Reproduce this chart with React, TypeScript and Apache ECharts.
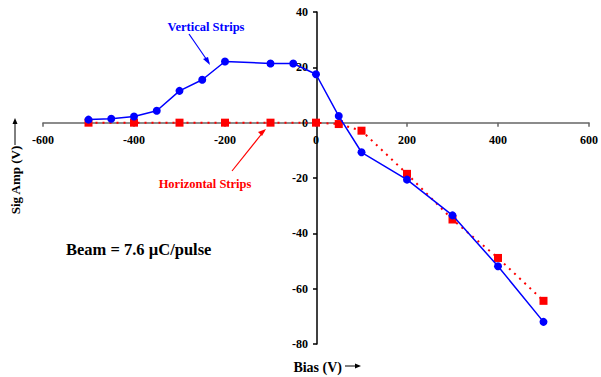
import React, { useEffect, useRef } from "react";
import * as echarts from "echarts";

const biasVertical = [-500, -450, -400, -350, -300, -250, -200, -100, -50, 0, 50, 100, 200, 300, 400, 500];
const ampVertical = [1.1, 1.4, 2.2, 4.3, 11.5, 15.5, 22.1, 21.4, 21.4, 17.5, 2.4, -10.7, -20.6, -33.5, -51.9, -72];
const biasHorizontal = [-500, -400, -300, -200, -100, 0, 50, 100, 200, 300, 400, 500];
const ampHorizontal = [0, 0, 0, 0, 0, 0, -0.5, -2.9, -18.5, -35, -48.9, -64.4];

const FONT = "'Liberation Serif', 'Times New Roman', serif";

const GRID = { left: 43, right: 10, top: 12, bottom: 33 };
const W = 601;
const H = 377;

export default function App() {
  const ref = useRef<HTMLDivElement>(null);
  useEffect(() => {
    if (!ref.current) return;
    const chart = echarts.init(ref.current, null, { renderer: "svg" });
    const label = { fontFamily: FONT, fontWeight: "bold", fontSize: 12, color: "#000" };
    const xMin = -600, xMax = 600, yMin = -80, yMax = 40;
    const plotW = W - GRID.left - GRID.right;
    const plotH = H - GRID.top - GRID.bottom;
    // move axes to cross at zero (labels follow the axis lines)
    const yOffset = -((0 - xMin) / (xMax - xMin)) * plotW;
    const xOffset = -((0 - yMin) / (yMax - yMin)) * plotH;
    chart.setOption({
      animation: false,
      backgroundColor: "#fff",
      grid: GRID,
      xAxis: {
        type: "value",
        min: xMin,
        max: xMax,
        interval: 200,
        offset: xOffset,
        splitLine: { show: false },
        axisLine: { onZero: false, lineStyle: { color: "#666", width: 1.5 } },
        axisTick: { length: 4, lineStyle: { color: "#666", width: 1.5 } },
        axisLabel: { ...label, margin: 11 },
      },
      yAxis: {
        type: "value",
        min: yMin,
        max: yMax,
        interval: 20,
        offset: yOffset,
        splitLine: { show: false },
        axisLine: { onZero: false, lineStyle: { color: "#000", width: 1.5 } },
        axisTick: { length: 4, lineStyle: { color: "#000", width: 1.5 } },
        axisLabel: { ...label, margin: 9 },
      },
      series: [
        {
          name: "Horizontal Strips",
          type: "line",
          data: biasHorizontal.map((x, i) => [x, ampHorizontal[i]]),
          symbol: "rect",
          symbolSize: 8,
          itemStyle: { color: "#ff0000" },
          lineStyle: { color: "#ff0000", width: 2, type: [2, 5] },
          z: 2,
        },
        {
          name: "Vertical Strips",
          type: "line",
          data: biasVertical.map((x, i) => [x, ampVertical[i]]),
          symbol: "circle",
          symbolSize: 8,
          itemStyle: { color: "#0000ff" },
          lineStyle: { color: "#0000ff", width: 1.5 },
          z: 3,
        },
      ],
      graphic: [
        {
          type: "text",
          x: 206,
          y: 27,
          style: { text: "Vertical Strips", fill: "#0000ff", font: `bold 12.5px ${FONT}`, align: "center", verticalAlign: "middle" },
        },
        { type: "line", shape: { x1: 189, y1: 34, x2: 209, y2: 63 }, style: { stroke: "#0000ff", lineWidth: 1.2 } },
        { type: "polygon", shape: { points: [[210, 65], [203, 59], [208, 57]] }, style: { fill: "#0000ff" } },
        {
          type: "text",
          x: 205,
          y: 184,
          style: { text: "Horizontal Strips", fill: "#ff0000", font: `bold 12.5px ${FONT}`, align: "center", verticalAlign: "middle" },
        },
        { type: "line", shape: { x1: 232, y1: 171, x2: 264, y2: 131 }, style: { stroke: "#ff0000", lineWidth: 1.2 } },
        { type: "polygon", shape: { points: [[266, 129], [258, 132], [262, 136]] }, style: { fill: "#ff0000" } },
        {
          type: "text",
          x: 66,
          y: 249,
          style: { text: "Beam = 7.6 \u00b5C/pulse", fill: "#000", font: `bold 16.5px ${FONT}`, align: "left", verticalAlign: "middle" },
        },
        {
          type: "text",
          x: 15,
          y: 180,
          rotation: Math.PI / 2,
          style: { text: "Sig Amp (V)", fill: "#000", font: `bold 13px ${FONT}`, align: "center", verticalAlign: "middle" },
        },
        { type: "line", shape: { x1: 15, y1: 145, x2: 15, y2: 122 }, style: { stroke: "#000", lineWidth: 1 } },
        { type: "polygon", shape: { points: [[15, 118], [12.5, 124], [17.5, 124]] }, style: { fill: "#000" } },
        {
          type: "text",
          x: 342,
          y: 367,
          style: { text: "Bias (V)", fill: "#000", font: `bold 14px ${FONT}`, align: "right", verticalAlign: "middle" },
        },
        { type: "line", shape: { x1: 345, y1: 366, x2: 357, y2: 366 }, style: { stroke: "#000", lineWidth: 1 } },
        { type: "polygon", shape: { points: [[361, 366], [355, 363.5], [355, 368.5]] }, style: { fill: "#000" } },
      ],
    });
    return () => chart.dispose();
  }, []);
  return <div ref={ref} style={{ width: W, height: H, position: "absolute", left: 0, top: 0 }} />;
}
